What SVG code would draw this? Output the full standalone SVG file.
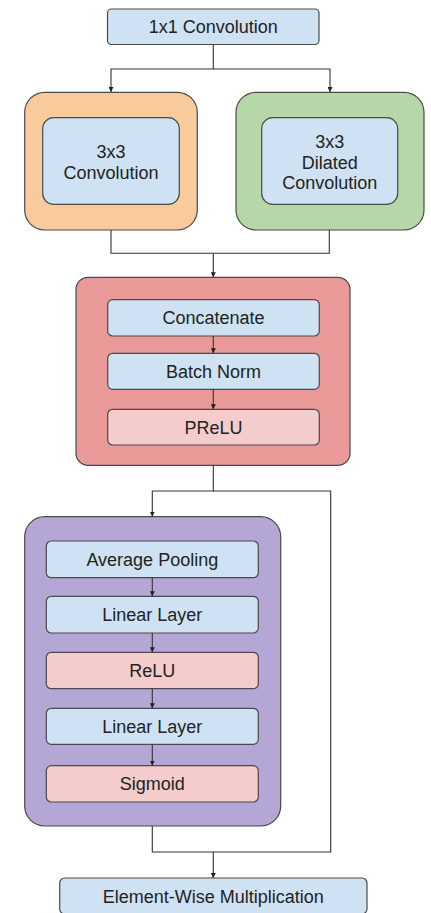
<svg xmlns="http://www.w3.org/2000/svg" width="431" height="913" viewBox="0 0 431 913">
<style>
.box{stroke:#4a4a4a;stroke-width:1.2}
.blue{fill:#cfe2f3}
.pink{fill:#f4cccc}
.t{font-family:"Liberation Sans",Arial,sans-serif;font-size:18px;fill:#222;text-anchor:middle}
.c{fill:none;stroke:#333;stroke-width:1.1}
</style>
<defs>
<marker id="ah" viewBox="0 0 6 6" refX="6" refY="3" markerWidth="5" markerHeight="5" markerUnits="userSpaceOnUse" orient="auto">
<path d="M0,0 L6,3 L0,6 z" fill="#222"/>
</marker>
</defs>
<rect width="431" height="913" fill="#fff"/>

<g id="conv1x1">
<rect class="box blue" x="107.5" y="9" width="211.5" height="35.5" rx="4"/>
<text class="t" x="213.3" y="33.3">1x1 Convolution</text>
</g>

<g id="branch3x3">
<rect class="box" fill="#f9cb9c" x="24.7" y="92.3" width="172.6" height="137.7" rx="20"/>
<rect class="box blue" x="42.7" y="117.7" width="136.6" height="86.6" rx="11"/>
<text class="t" x="111" y="158">3x3</text>
<text class="t" x="111" y="179">Convolution</text>
</g>

<g id="branchDilated">
<rect class="box" fill="#b6d7a8" x="236" y="92.3" width="188" height="137.7" rx="20"/>
<rect class="box blue" x="261.7" y="117.7" width="136" height="86.6" rx="11"/>
<text class="t" x="329.7" y="148">3x3</text>
<text class="t" x="329.7" y="168.5">Dilated</text>
<text class="t" x="329.7" y="189">Convolution</text>
</g>

<g id="fusion">
<rect class="box" fill="#ea9999" x="76" y="277.3" width="274" height="188" rx="12"/>
</g>
<g id="concatenate">
<rect class="box blue" x="107.7" y="299.7" width="211.6" height="36.3" rx="5"/>
<text class="t" x="213.5" y="324.3">Concatenate</text>
</g>
<g id="batchnorm">
<rect class="box blue" x="107.7" y="353.3" width="211.6" height="36" rx="5"/>
<text class="t" x="213.5" y="377.7">Batch Norm</text>
</g>
<g id="prelu">
<rect class="box pink" x="107.7" y="409.3" width="211.6" height="35.7" rx="5"/>
<text class="t" x="213.5" y="433.5">PReLU</text>
</g>

<g id="attention">
<rect class="box" fill="#b4a7d6" x="24.7" y="516.7" width="256" height="309.3" rx="20"/>
</g>
<g id="avgpool">
<rect class="box blue" x="46.3" y="541" width="212" height="36.7" rx="5"/>
<text class="t" x="152.3" y="565.7">Average Pooling</text>
</g>
<g id="linear1">
<rect class="box blue" x="46.3" y="596.3" width="212" height="36.7" rx="5"/>
<text class="t" x="152.3" y="621">Linear Layer</text>
</g>
<g id="relu">
<rect class="box pink" x="46.3" y="652.3" width="212" height="36.4" rx="5"/>
<text class="t" x="152.3" y="676.8">ReLU</text>
</g>
<g id="linear2">
<rect class="box blue" x="46.3" y="708.3" width="212" height="36" rx="5"/>
<text class="t" x="152.3" y="732.6">Linear Layer</text>
</g>
<g id="sigmoid">
<rect class="box pink" x="46.3" y="765.7" width="212" height="36.3" rx="5"/>
<text class="t" x="152.3" y="790">Sigmoid</text>
</g>

<g id="multiply">
<rect class="box blue" x="59.7" y="878" width="307.3" height="36" rx="5"/>
<text class="t" x="213.3" y="903">Element-Wise Multiplication</text>
</g>

<g id="connectors">
<path class="c" d="M213.3,44.5 V69 H111 V92" marker-end="url(#ah)"/>
<path class="c" d="M213.3,69 H330 V92" marker-end="url(#ah)"/>
<path class="c" d="M111,230 V253.3 H329.3 V230"/>
<path class="c" d="M213.3,253.3 V277.3" marker-end="url(#ah)"/>
<path class="c" d="M213.3,336 V353.3" marker-end="url(#ah)"/>
<path class="c" d="M213.3,389.3 V409.3" marker-end="url(#ah)"/>
<path class="c" d="M213.3,465.3 V491 H152.3 V516.7" marker-end="url(#ah)"/>
<path class="c" d="M213.3,491 H330.7 V852 H213.3"/>
<path class="c" d="M152.3,826 V852 H213.3 V878" marker-end="url(#ah)"/>
<path class="c" d="M152.3,577.7 V596.3" marker-end="url(#ah)"/>
<path class="c" d="M152.3,633 V652.3" marker-end="url(#ah)"/>
<path class="c" d="M152.3,688.7 V708.3" marker-end="url(#ah)"/>
<path class="c" d="M152.3,744.3 V765.7" marker-end="url(#ah)"/>
</g>
</svg>
